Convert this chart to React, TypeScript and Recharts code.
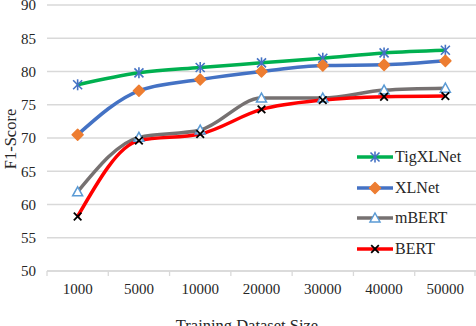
import { LineChart, Line, XAxis, YAxis, CartesianGrid, Legend } from "recharts";

const categories = ["1000", "5000", "10000", "20000", "30000", "40000", "50000"];
const tigxlnet = [78.0, 79.8, 80.6, 81.3, 82.0, 82.8, 83.2];
const xlnet = [70.5, 77.1, 78.8, 80.0, 80.9, 81.0, 81.6];
const mbert = [61.9, 70.1, 71.2, 76.0, 76.0, 77.2, 77.5];
const bert = [58.2, 69.6, 70.6, 74.3, 75.7, 76.2, 76.3];
const yTicks = [50, 55, 60, 65, 70, 75, 80, 85, 90];

const data = categories.map((size, i) => ({
  size,
  TigXLNet: tigxlnet[i],
  XLNet: xlnet[i],
  mBERT: mbert[i],
  BERT: bert[i],
}));

const FONT = "Liberation Serif";
const TEXT = "#262626";
const GRID = "#d9d9d9";
const W = 476;
const H = 326;
const PLOT_LEFT = 47;
const STEP = (W - PLOT_LEFT) / categories.length;

type Marker = "star" | "diamond" | "triangle" | "cross";

function drawMarker(kind: Marker, cx: number, cy: number, key?: string | number) {
  if (kind === "star") {
    const s = 4.5;
    return (
      <g key={key} stroke="#4472c4" strokeWidth={1.6}>
        <line x1={cx - s} y1={cy - s} x2={cx + s} y2={cy + s} />
        <line x1={cx - s} y1={cy + s} x2={cx + s} y2={cy - s} />
        <line x1={cx} y1={cy - s - 1} x2={cx} y2={cy + s + 1} />
      </g>
    );
  }
  if (kind === "diamond") {
    const s = 5.5;
    return (
      <polygon
        key={key}
        points={`${cx},${cy - s} ${cx + s},${cy} ${cx},${cy + s} ${cx - s},${cy}`}
        fill="#ed7d31"
        stroke="#ed7d31"
        strokeWidth={1.5}
        strokeLinejoin="round"
      />
    );
  }
  if (kind === "triangle") {
    const s = 5;
    return (
      <polygon
        key={key}
        points={`${cx},${cy - s} ${cx + s},${cy + s * 0.8} ${cx - s},${cy + s * 0.8}`}
        fill="#fff"
        stroke="#5b9bd5"
        strokeWidth={1.5}
      />
    );
  }
  const s = 3.8;
  return (
    <g key={key} stroke="#000" strokeWidth={1.8}>
      <line x1={cx - s} y1={cy - s} x2={cx + s} y2={cy + s} />
      <line x1={cx - s} y1={cy + s} x2={cx + s} y2={cy - s} />
    </g>
  );
}

const series: { key: string; color: string; marker: Marker }[] = [
  { key: "TigXLNet", color: "#00b050", marker: "star" },
  { key: "XLNet", color: "#4472c4", marker: "diamond" },
  { key: "mBERT", color: "#767171", marker: "triangle" },
  { key: "BERT", color: "#ff0000", marker: "cross" },
];

// tick y arrives 8px below the axis line (tickSize 6 + tickMargin 2)
function XTick(props: any) {
  const { x, y, payload, index } = props;
  const axisY = y - 8;
  const last = index === categories.length - 1;
  return (
    <g>
      <line x1={x - STEP / 2} y1={axisY} x2={x - STEP / 2} y2={axisY + 5} stroke={GRID} strokeWidth={1.3} />
      {last && (
        <line x1={x + STEP / 2 - 1} y1={axisY} x2={x + STEP / 2 - 1} y2={axisY + 5} stroke={GRID} strokeWidth={1.3} />
      )}
      <text x={x} y={axisY + 23} textAnchor="middle" style={{ fontFamily: FONT }} fontSize={15} fill={TEXT}>
        {payload.value}
      </text>
    </g>
  );
}

function LegendBox() {
  return (
    <div style={{ fontFamily: FONT, fontSize: 16, color: TEXT }}>
      {series.map((s) => (
        <div key={s.key} style={{ display: "flex", alignItems: "center", height: 30.8 }}>
          <svg width={37} height={14} style={{ overflow: "visible" }}>
            <line x1={0} y1={7} x2={36} y2={7} stroke={s.color} strokeWidth={3.5} />
            {drawMarker(s.marker, 18, 7)}
          </svg>
          <span style={{ marginLeft: 1 }}>{s.key}</span>
        </div>
      ))}
    </div>
  );
}

export default function App() {
  return (
    <div style={{ position: "absolute", left: 0, top: 0, background: "#fff", fontFamily: FONT }}>
      <LineChart width={W} height={H} data={data} margin={{ top: 5, right: 0, left: 0, bottom: 0 }}>
        <CartesianGrid vertical={false} stroke={GRID} strokeWidth={1.3} />
        <XAxis
          dataKey="size"
          height={55}
          padding={{ left: STEP / 2, right: STEP / 2 }}
          axisLine={{ stroke: GRID, strokeWidth: 1.3 }}
          tickLine={false}
          tick={<XTick />}
          interval={0}
          label={() => (
            <text x={247} y={331} textAnchor="middle" style={{ fontFamily: FONT }} fontSize={16.5} fill={TEXT}>
              Training Dataset Size
            </text>
          )}
        />
        <YAxis
          width={PLOT_LEFT}
          domain={[50, 90]}
          ticks={yTicks}
          interval={0}
          axisLine={false}
          tickLine={false}
          tickMargin={5}
          tick={{ fontFamily: FONT, fontSize: 15, fill: TEXT }}
          label={() => (
            <text
              x={16}
              y={139}
              transform="rotate(-90, 16, 139)"
              textAnchor="middle"
              style={{ fontFamily: FONT }}
              fontSize={16.5}
              fill={TEXT}
            >
              F1-Score
            </text>
          )}
        />
        <Legend
          layout="horizontal"
          align="center"
          verticalAlign="middle"
          content={() => <LegendBox />}
          wrapperStyle={{ position: "absolute", left: 357, top: 141.5, width: 119, height: 124 }}
        />
        {series.map((s) => (
          <Line
            key={s.key}
            dataKey={s.key}
            type="monotone"
            stroke={s.color}
            strokeWidth={3.5}
            isAnimationActive={false}
            dot={(p: any) => drawMarker(s.marker, p.cx, p.cy, `${s.key}-${p.index}`)}
            activeDot={false}
          />
        ))}
      </LineChart>
    </div>
  );
}
